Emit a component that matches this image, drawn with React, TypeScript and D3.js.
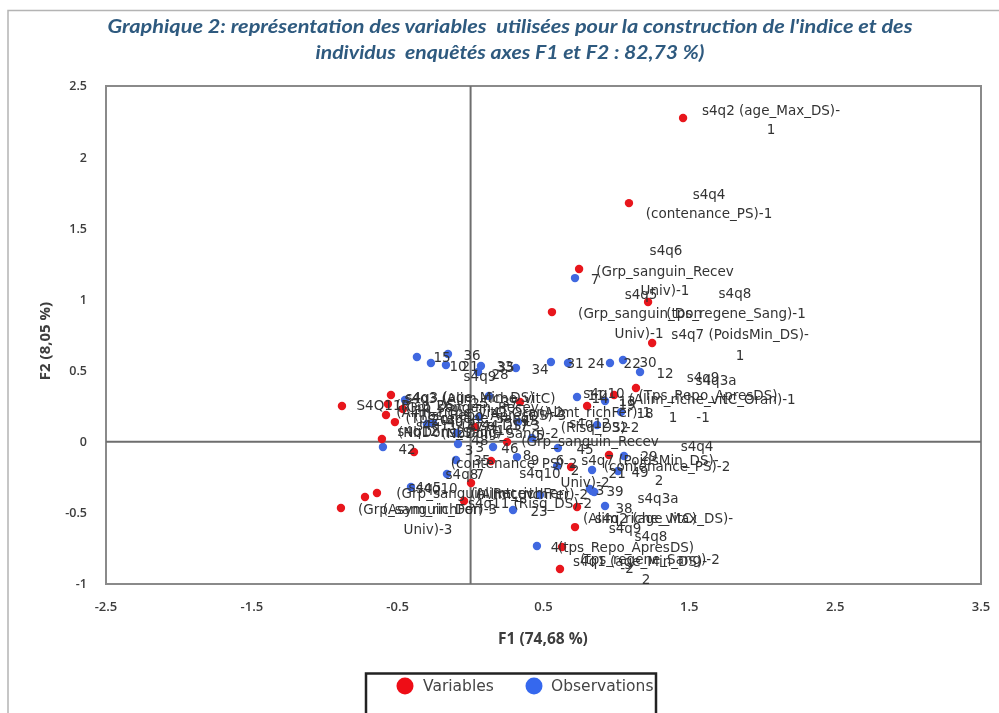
import React from "react";
import * as d3 from "d3";

const titleLines = ["Graphique 2: représentation des variables  utilisées pour la construction de l'indice et des", "individus  enquêtés axes F1 et F2 : 82,73 %)"];
const titleWidths = [805, 389];
const xTicks = [-2.5, -1.5, -0.5, 0.5, 1.5, 2.5, 3.5];
const yTicks = [2.5, 2, 1.5, 1, 0.5, 0, -0.5, -1];

const varF1 = [1.457,1.086,0.744,1.217,0.558,1.245,1.134,0.984,0.799,0.949,0.689,0.730,0.716,0.627,0.613,-0.882,-0.546,-0.567,-0.464,-0.580,-0.519,-0.608,-0.388,-0.642,-0.724,-0.889,0.003,-0.045,0.140,0.250,0.030,0.339];
const varF2 = [2.275,1.677,1.214,0.982,0.911,0.694,0.377,0.328,0.251,-0.093,-0.178,-0.459,-0.600,-0.740,-0.895,0.251,0.328,0.265,0.230,0.188,0.138,0.019,-0.072,-0.360,-0.389,-0.466,-0.290,-0.417,-0.136,-0.002,0.103,0.279];

const obsF1 = [-0.368,-0.272,-0.155,-0.169,0.071,0.051,0.311,0.551,0.668,0.956,1.045,1.162,0.716,-0.450,0.126,0.730,0.922,1.032,0.867,0.058,-0.299,-0.258,-0.093,0.325,0.421,-0.086,-0.601,0.154,0.599,1.052,-0.100,0.318,0.593,0.833,1.011,-0.162,-0.409,0.833,0.818,0.848,0.922,0.476,0.291,0.455];
const obsF2 = [0.595,0.553,0.616,0.539,0.532,0.490,0.518,0.560,0.553,0.553,0.574,0.490,1.150,0.293,0.321,0.314,0.286,0.209,0.117,0.174,0.124,0.131,0.061,0.138,0.026,-0.016,-0.037,-0.037,-0.044,-0.100,-0.129,-0.108,-0.171,-0.199,-0.206,-0.227,-0.318,-0.346,-0.332,-0.353,-0.452,-0.375,-0.480,-0.733];

const labelText = ["s4q2 (age_Max_DS)-","1","s4q4","(contenance_PS)-1","s4q6","(Grp_sanguin_Recev","Univ)-1","7","s4q5","(Grp_sanguin_Don","Univ)-1","s4q8","(tps_regene_Sang)-1","s4q7 (PoidsMin_DS)-","1","36","15","10","21","33","35","28","s4q9","34","31","24","22","30","12","s4q9","s4q3a","s4q10","(Tps_Repo_ApresDS)","(Alim_riche_vitC_Oran)-1","14","13","19","18","1","-1","(Alimt_richFer)-1","s4q12","(Risq_DS)-2","32","(Grp_sanguin_Recev","45","s4q4","29","s4q7 (PoidsMin_DS)-","(contenance_PS)-2","49","2","(contenance_PS)-2","Univ)-2","s4q10","21","2","39","3","(Alimt_richFer)-2","s4q11 (Risq_DS)-2","23","38","s4q3a","s4q2 (age_Max_DS)-","(Alim_riche_vitC)","s4q9","s4q8","4","(tps_Repo_ApresDS)","s4q1 (age_Min_DS)-","(tps_regene_Sang)-2","-2","2","s4q3 (age_Min_DS)","s4q3 (Alim_riche_vitC)","S4Q11","(Risq_DS)-1","(Grp_sanguin_Recev","(Tps_regene_Sang)","s4q12","(NbDons_Sang)","42","3","3","46","35","s4q8","7","s4q5","s4q10","(Grp_sanguin_Recev","(Alimt_richFer)","(Grp_sanguin_Don","(Asym_richFer)-3","Univ)-3","26","25","41","40","47","44","16","17","20","27","37","43","48","5","6","8","9","11","(Alim_riche_vitC_Oran)-2","(Tps_Repo_ApresDS)-3","s4q11 (Risq_DS)-3","(NbDons_Sang)-2"];
const labelF1 = [2.06,2.06,1.635,1.635,1.34,1.333,1.333,0.853,1.169,1.162,1.155,1.813,1.82,1.848,1.848,0.01,-0.196,-0.086,-0.004,0.236,0.243,0.202,0.064,0.476,0.716,0.86,1.108,1.217,1.333,1.594,1.683,0.915,1.628,1.656,0.888,1.073,1.073,1.196,1.388,1.594,0.853,0.819,0.888,1.025,0.819,0.785,1.553,1.224,1.23,1.347,1.162,1.292,0.298,0.785,0.476,1.005,0.716,0.991,0.888,0.421,0.407,0.47,1.052,1.285,1.327,1.162,1.059,1.237,0.579,1.066,1.162,1.23,1.073,1.203,-0.004,0.064,-0.628,-0.244,-0.004,-0.004,-0.361,-0.141,-0.436,-0.011,0.064,0.27,0.078,-0.059,0.064,-0.313,-0.23,-0.038,0.339,-0.347,-0.21,-0.292,-0.176,0.064,0.202,-0.107,0.03,0.133,0.236,0.339,-0.21,-0.038,0.27,0.408,0.064,0.476,0.613,0.387,0.442,0.86,0.064,0.133,0.051,0.202];
const labelF2 = [2.331,2.197,1.741,1.607,1.347,1.2,1.066,1.143,1.038,0.904,0.764,1.045,0.904,0.757,0.609,0.609,0.595,0.532,0.532,0.532,0.525,0.476,0.462,0.511,0.553,0.553,0.553,0.56,0.483,0.455,0.434,0.342,0.328,0.3,0.307,0.286,0.265,0.202,0.174,0.174,0.209,0.131,0.103,0.103,0.005,-0.051,-0.03,-0.1,-0.129,-0.171,-0.213,-0.269,-0.15,-0.283,-0.22,-0.22,-0.199,-0.346,-0.339,-0.368,-0.431,-0.487,-0.466,-0.396,-0.536,-0.536,-0.606,-0.663,-0.74,-0.74,-0.838,-0.824,-0.888,-0.965,0.314,0.307,0.258,0.258,0.244,0.167,0.075,0.068,-0.051,-0.058,-0.037,-0.044,-0.129,-0.227,-0.227,-0.318,-0.325,-0.36,-0.36,-0.473,-0.473,-0.614,0.258,0.272,0.209,0.138,0.103,0.117,0.082,0.117,0.152,0.068,0.279,0.152,0.012,0.047,-0.129,-0.093,-0.129,0.328,0.207,0.188,0.117,0.061];

const redColor = "#e8141c";
const blueColor = "#3f68e0";
const axisColor = "#8a8a8a";
const textColor = "#3c3c3c";

export default function App() {
  const x = d3.scaleLinear().domain([-2.5, 3.5]).range([106, 981]);
  const y = d3.scaleLinear().domain([2.5, -1]).range([86, 584]);
  const font = "'Open Sans', sans-serif";
  const labelFont = "'DejaVu Sans', sans-serif";
  return (
    <svg width={999} height={713} viewBox="0 0 999 713" style={{ position: "absolute", left: 0, top: 0, display: "block", background: "#fff" }}>
      <defs>
        <filter id="soft" x="-5%" y="-5%" width="110%" height="110%"><feGaussianBlur stdDeviation="0.45" /></filter>
      </defs>
      <g filter="url(#soft)">
        <path d="M8 713V10.5H999" fill="none" stroke="#b4b4b4" strokeWidth={1.5} />
        {titleLines.map((t, i) => (
          <text key={i} x={510} y={33 + i * 26} textAnchor="middle" textLength={titleWidths[i]} lengthAdjust="spacingAndGlyphs" xmlSpace="preserve" fontFamily="Lato, sans-serif" fontWeight={700} fontStyle="italic" fontSize={19} fill="#2f5a7f">{t}</text>
        ))}
        <rect x={x(-2.5)} y={y(2.5)} width={x(3.5) - x(-2.5)} height={y(-1) - y(2.5)} fill="none" stroke={axisColor} strokeWidth={2} />
        <line x1={x(0)} x2={x(0)} y1={y(2.5)} y2={y(-1)} stroke="#6e6e6e" strokeWidth={2} />
        <line x1={x(-2.5)} x2={x(3.5)} y1={y(0)} y2={y(0)} stroke="#6e6e6e" strokeWidth={2} />
        {yTicks.map((t) => (
          <text key={t} x={87} y={y(t)} dy="0.35em" textAnchor="end" fontFamily={font} fontWeight={600} fontSize={12.5} fill={textColor}>{t}</text>
        ))}
        {xTicks.map((t) => (
          <text key={t} x={x(t)} y={611} textAnchor="middle" fontFamily={font} fontWeight={600} fontSize={13} fill={textColor}>{t}</text>
        ))}
        <text x={543} y={644} textAnchor="middle" fontFamily={font} fontWeight={700} fontSize={15.5} fill={textColor}>F1 (74,68 %)</text>
        <text transform="translate(50,341) rotate(-90)" textAnchor="middle" fontFamily={font} fontWeight={700} fontSize={15} fill={textColor}>F2 (8,05 %)</text>
        {obsF1.map((v, i) => (
          <circle key={i} cx={x(v)} cy={y(obsF2[i])} r={4.2} fill={blueColor} />
        ))}
        {varF1.map((v, i) => (
          <circle key={i} cx={x(v)} cy={y(varF2[i])} r={4.2} fill={redColor} />
        ))}
        {labelText.map((t, i) => (
          <text key={i} x={x(labelF1[i])} y={y(labelF2[i])} dy="0.35em" textAnchor="middle" fontFamily={labelFont} fontSize={13.5} fill="#333">{t}</text>
        ))}
        <path d="M366 713V673.5H656V713" fill="none" stroke="#222" strokeWidth={2.5} />
        <circle cx={405} cy={686} r={8.5} fill="#ee0f16" />
        <text x={423} y={691} fontFamily={labelFont} fontSize={15.5} fill="#444">Variables</text>
        <circle cx={534} cy={686} r={8.5} fill="#3568ee" />
        <text x={551} y={691} fontFamily={labelFont} fontSize={15.5} fill="#444">Observations</text>
      </g>
    </svg>
  );
}
